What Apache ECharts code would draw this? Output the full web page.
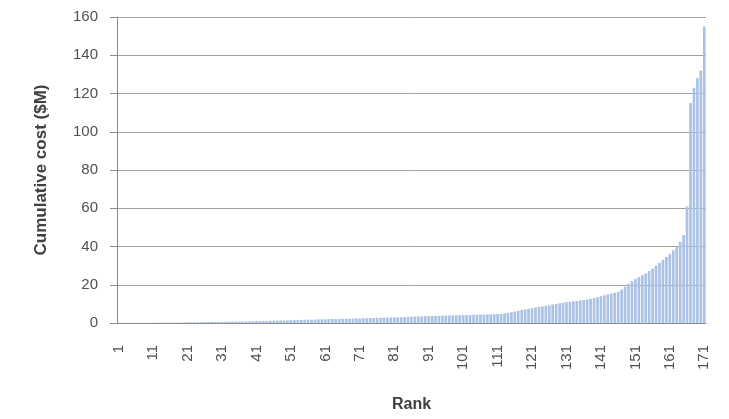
<!DOCTYPE html>
<html>
<head>
<meta charset="utf-8">
<script src="https://cdn.jsdelivr.net/npm/echarts@6/dist/echarts.min.js"></script>
<style>
html,body{margin:0;padding:0;background:#fff;}
#chart{width:729px;height:419px;}
</style>
</head>
<body>
<div id="chart"></div>
<script>
// Rank categories 1..171
var ranks = [];
for (var i = 1; i <= 171; i++) ranks.push(String(i));

// Cumulative cost ($M)
var costs1to50 = [
  0.1,0.1,0.1,0.1,0.1,0.1,0.1,0.1,0.1,0.1,
  0.15,0.15,0.2,0.2,0.2,0.2,0.2,0.25,0.25,0.25,
  0.4,0.4,0.45,0.45,0.5,0.5,0.5,0.55,0.55,0.6,
  0.6,0.65,0.7,0.7,0.75,0.8,0.8,0.85,0.9,0.9,
  1.0,1.0,1.1,1.1,1.2,1.2,1.3,1.3,1.4,1.4
];
var costs51to110 = [
  1.5,1.5,1.6,1.6,1.7,1.7,1.8,1.8,1.9,1.9,
  2.0,2.0,2.1,2.1,2.1,2.2,2.2,2.3,2.3,2.4,
  2.4,2.5,2.5,2.6,2.6,2.7,2.7,2.8,2.8,2.9,
  2.9,3.0,3.0,3.1,3.2,3.3,3.4,3.4,3.5,3.6,
  3.6,3.7,3.7,3.8,3.8,3.9,3.9,4.0,4.0,4.1,
  4.1,4.2,4.2,4.3,4.3,4.4,4.4,4.5,4.5,4.6
];
var costs111to171 = [
  4.7,4.8,5.0,5.3,5.6,6.0,6.4,6.8,7.1,7.4,
  7.8,8.1,8.4,8.7,9.0,9.3,9.7,10.0,10.3,10.6,
  10.9,11.1,11.3,11.5,11.8,12.0,12.3,12.6,13.0,13.5,
  14.0,14.5,15.0,15.4,15.8,16.3,17.5,19.0,20.5,21.8,
  23.0,24.0,25.0,26.0,27.2,28.5,30.0,31.5,33.0,34.5,
  36.0,38.0,40.0,42.5,46.0,61.0,
  115,123,128,132,155
];
var costs = costs1to50.concat(costs51to110, costs111to171);

var yTicks = {min: 0, max: 160, interval: 20};

var chart = echarts.init(document.getElementById('chart'), null, {renderer: 'canvas'});
chart.setOption({
  animation: false,
  backgroundColor: '#ffffff',
  grid: {left: 117, right: 23, top: 17, bottom: 96, containLabel: false},
  xAxis: {
    type: 'category',
    data: ranks,
    boundaryGap: true,
    name: 'Rank',
    nameLocation: 'middle',
    nameGap: 74,
    nameTextStyle: {fontFamily: 'Liberation Sans', fontWeight: 'bold', fontSize: 16, color: '#404040'},
    axisLine: {lineStyle: {color: '#8c8c8c', width: 1}},
    axisTick: {show: false},
    axisLabel: {
      interval: 9,
      rotate: 90,
      margin: 22,
      fontFamily: 'Liberation Sans',
      fontSize: 15,
      color: '#505050'
    },
    splitLine: {show: false}
  },
  yAxis: {
    type: 'value',
    min: yTicks.min,
    max: yTicks.max,
    interval: yTicks.interval,
    name: 'Cumulative cost ($M)',
    nameLocation: 'middle',
    nameGap: 67,
    nameRotate: 90,
    nameTextStyle: {fontFamily: 'Liberation Sans', fontWeight: 'bold', fontSize: 17, color: '#404040'},
    axisLine: {show: true, lineStyle: {color: '#8c8c8c', width: 1}},
    axisTick: {show: true, length: 7, lineStyle: {color: '#8c8c8c'}},
    axisLabel: {
      margin: 19,
      fontFamily: 'Liberation Sans',
      fontSize: 15,
      color: '#505050'
    },
    splitLine: {show: true, lineStyle: {color: '#a0a0a0', width: 1}}
  },
  series: [{
    type: 'bar',
    data: costs,
    barCategoryGap: '22%',
    itemStyle: {color: '#abc2e5'}
  }]
});
</script>
</body>
</html>
